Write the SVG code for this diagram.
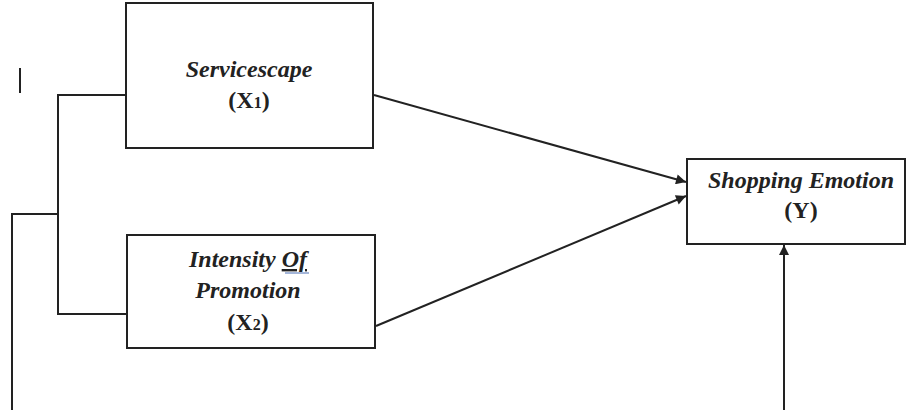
<svg xmlns="http://www.w3.org/2000/svg" width="907" height="410" viewBox="0 0 907 410">
<style>
.box{fill:#fff;stroke:#222;stroke-width:2}
.ln{fill:none;stroke:#222;stroke-width:2}
.t{font-family:'Liberation Serif','DejaVu Serif',serif;font-size:24px;font-weight:bold;fill:#222;text-anchor:middle}
.i{font-style:italic}
.sub{font-size:16px}
</style>
<defs>
<marker id="ah" viewBox="0 0 10 10" refX="10" refY="5" markerWidth="6" markerHeight="5" orient="auto" markerUnits="strokeWidth">
<path d="M0,0 L10,5 L0,10 z" fill="#222"/>
</marker>
</defs>
<g id="connectors">
<line class="ln" x1="20" y1="68" x2="20" y2="93"/>
<polyline class="ln" points="126,95 58,95 58,314 127,314"/>
<polyline class="ln" points="58,214 12,214 12,410"/>
<line class="ln" x1="374" y1="95" x2="686" y2="182" marker-end="url(#ah)"/>
<line class="ln" x1="376" y1="326" x2="686" y2="196" marker-end="url(#ah)"/>
<line class="ln" x1="784" y1="410" x2="784" y2="245" marker-end="url(#ah)"/>
</g>
<g id="x1">
<rect class="box" x="126" y="3" width="247" height="145"/>
<text class="t i" x="249" y="77">Servicescape</text>
<text class="t" x="249" y="108">(X<tspan class="sub">1</tspan>)</text>
</g>
<g id="x2">
<rect class="box" x="127" y="235" width="248" height="113"/>
<text class="t i" x="248" y="267">Intensity <tspan text-decoration="underline">Of</tspan></text>
<line x1="285" y1="273" x2="309" y2="273" stroke="#4a6fb5" stroke-width="1"/>
<text class="t i" x="248" y="298">Promotion</text>
<text class="t" x="248" y="330">(X<tspan class="sub">2</tspan>)</text>
</g>
<g id="y">
<rect class="box" x="687" y="159" width="218" height="85"/>
<text class="t i" x="801" y="188">Shopping Emotion</text>
<text class="t" x="801" y="218">(Y)</text>
</g>
</svg>
